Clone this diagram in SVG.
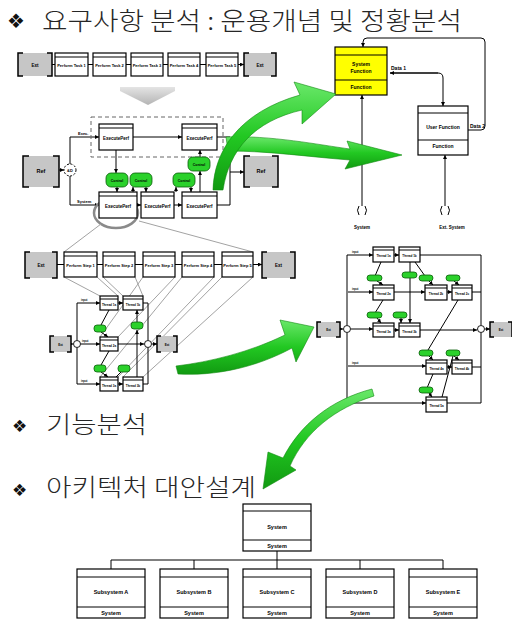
<svg xmlns="http://www.w3.org/2000/svg" width="512" height="623" viewBox="0 0 512 623">
<defs>
  <marker id="ah" viewBox="0 0 6 6" refX="6" refY="3" markerWidth="4" markerHeight="4" orient="auto"><path d="M0,0L6,3L0,6z" fill="#000"/></marker>
  <linearGradient id="gr" x1="0" y1="0" x2="0" y2="1">
    <stop offset="0" stop-color="#6ae86a"/><stop offset="0.5" stop-color="#22c822"/><stop offset="1" stop-color="#119a11"/>
  </linearGradient>
  <linearGradient id="gy" x1="0" y1="0" x2="0" y2="1">
    <stop offset="0" stop-color="#e4e4e4"/><stop offset="1" stop-color="#b4b4b4"/>
  </linearGradient>
</defs>
<style>
  .bx{fill:#fff;stroke:#000;stroke-width:1.2}
  .yl{fill:#ffff00;stroke:#000;stroke-width:1.2}
  .rf{fill:#c6c6c6}
  .br{fill:none;stroke:#000;stroke-width:1.5}
  .ln{fill:none;stroke:#000;stroke-width:1}
  .ar{marker-end:url(#ah)}
  .fan{fill:none;stroke:#a3a3a3;stroke-width:1}
  .gb{fill:#2bd12b;stroke:#0b5e0b;stroke-width:0.8}
  .jn{fill:#fff;stroke:#000;stroke-width:0.9}
  .s{font-family:"Liberation Sans",Arial,sans-serif;font-weight:bold;text-anchor:middle;fill:#000}
  .sl{font-family:"Liberation Sans",Arial,sans-serif;font-weight:bold;fill:#000}
  .h{font-family:"Noto Sans CJK KR","Noto Sans",sans-serif;font-weight:300;fill:#262626}
  .bu{font-family:"DejaVu Sans",sans-serif;fill:#111}
  .sw{fill:url(#gr);stroke:#138a13;stroke-width:0.6}
</style>

<rect width="512" height="623" fill="#fff"/>

<!-- headings -->
<g id="headings">
  <text class="bu" x="7" y="28" font-size="20">❖</text>
  <text class="h" x="42" y="30" font-size="25" textLength="420" lengthAdjust="spacingAndGlyphs">요구사항 분석 : 운용개념 및 정황분석</text>
  <text class="bu" x="12" y="432" font-size="17">❖</text>
  <text class="h" x="46" y="433" font-size="24" textLength="101" lengthAdjust="spacingAndGlyphs">기능분석</text>
  <text class="bu" x="12" y="496" font-size="17">❖</text>
  <text class="h" x="46" y="496" font-size="24" textLength="210" lengthAdjust="spacingAndGlyphs">아키텍처 대안설계</text>
</g>

<!-- ===================== connectors ===================== -->
<g id="connectors">
  <!-- row 1 -->
  <g id="c-row1">
    <path class="ln ar" d="M52,64.5H55.5M88,64.5H93M126,64.5H131M163,64.5H168M200,64.5H206M238,64.5H244"/>
  </g>
  <!-- context diagram -->
  <g id="c-context">
    <path class="ln ar" d="M59,170H64"/>
    <path class="ln ar" d="M70,164V137H99"/>
    <path class="ln ar" d="M70,176V205H99"/>
    <path class="ln ar" d="M133,137H182"/>
    <path class="ln" d="M217,137H230V205H217"/>
    <path class="ln ar" d="M230,172H244"/>
    <path class="ln ar" d="M116,150V173"/>
    <path class="ln ar" d="M117,187V192"/>
    <path class="ln ar" d="M133,192V187"/>
    <path class="ln ar" d="M146,187V192"/>
    <path class="ln ar" d="M137,205H141"/>
    <path class="ln ar" d="M174,205H182"/>
    <path class="ln ar" d="M176,192V187"/>
    <path class="ln ar" d="M191,187V192"/>
    <path class="ln ar" d="M200,192V171"/>
    <path class="ln ar" d="M200,157V150"/>
    <text class="sl" x="78" y="135" font-size="4">Exec.</text>
    <text class="sl" x="77" y="203" font-size="4">System</text>
  </g>
  <!-- decomposition fan -->
  <g id="c-fan">
    <ellipse cx="116" cy="213" rx="22" ry="15" fill="none" stroke="#8a8a8a" stroke-width="2.5"/>
    <path class="fan" d="M101,224L64,252M139,221L253,252"/>
    <path class="fan" d="M64,277L100,296M97,277L118,296M103,277L123,296M135,277L143,296M143,277L100,337M175,277L118,337M182,277L100,377M214,277L118,377M222,277L123,377M253,277L143,377"/>
  </g>
  <!-- row 2 -->
  <g id="c-row2">
    <path class="ln ar" d="M57,264.5H64M97,264.5H103M135,264.5H143M175,264.5H182M214,264.5H222M253,264.5H262"/>
  </g>
  <!-- small flow diagram -->
  <g id="c-flow-small">
    <path class="ln ar" d="M71,344H73"/>
    <path class="ln ar" d="M77,340V303H100"/>
    <path class="ln ar" d="M77,348V384H100"/>
    <path class="ln ar" d="M81,344H100"/>
    <path class="ln ar" d="M118,303H123"/>
    <path class="ln" d="M143,303H148V340M143,384H148V348"/>
    <path class="ln ar" d="M118,344H144"/>
    <path class="ln ar" d="M152,344H157"/>
    <path class="ln" d="M109,310L101,325M109,351L101,365M116,377L121,372"/>
    <path class="ln ar" d="M101,332L108,337"/>
    <path class="ln ar" d="M101,372L108,377"/>
    <path class="ln ar" d="M118,384H123"/>
    <path class="ln ar" d="M137,377V330"/>
    <path class="ln ar" d="M137,322V310"/>
    <text class="sl" x="81" y="301" font-size="2.6">input</text>
    <text class="sl" x="82" y="342" font-size="2.6">input</text>
    <text class="sl" x="81" y="382" font-size="2.6">input</text>
  </g>
  <!-- large flow diagram -->
  <g id="c-flow-large">
    <path class="ln ar" d="M340,329H343"/>
    <path class="ln ar" d="M485,329H490"/>
    <path class="ln ar" d="M347,325V255H373"/>
    <path class="ln ar" d="M347,333V403H426"/>
    <path class="ln ar" d="M348,292H373"/>
    <path class="ln ar" d="M348,366H426"/>
    <path class="ln ar" d="M351,329H373"/>
    <path class="ln ar" d="M394,255H399"/>
    <path class="ln" d="M420,255H481V325M481,333V403H447M472,292H481M472,367H481"/>
    <path class="ln ar" d="M394,292H425"/>
    <path class="ln ar" d="M447,292H452"/>
    <path class="ln ar" d="M394,330H399"/>
    <path class="ln ar" d="M420,330H477"/>
    <path class="ln ar" d="M447,367H452"/>
    <path class="ln" d="M381,262L375,276M415,262L425,276M383,300L375,313M458,300L428,350M433,374L427,388M442,397L453,356"/>
    <path class="ln ar" d="M377,281L383,285"/>
    <path class="ln ar" d="M410,262V323"/>
    <path class="ln ar" d="M429,281L433,285"/>
    <path class="ln ar" d="M454,281L459,285"/>
    <path class="ln ar" d="M377,318L381,323"/>
    <path class="ln ar" d="M401,318V323"/>
    <path class="ln ar" d="M429,356L433,360"/>
    <path class="ln ar" d="M454,356L459,360"/>
    <path class="ln ar" d="M429,393L432,397"/>
    <text class="sl" x="352" y="253" font-size="2.6">input</text>
    <text class="sl" x="352" y="290" font-size="2.6">input</text>
    <text class="sl" x="352" y="364" font-size="2.6">input</text>
    <text class="sl" x="352" y="401" font-size="2.6">input</text>
  </g>
  <!-- function diagram -->
  <g id="c-function">
    <path class="ln ar" d="M438,73H390"/>
    <path class="ln ar" d="M390,73H438Q443,73 443,78V106"/>
    <path class="ln ar" d="M468,130H481Q485,130 485,126V42Q485,38 481,38H367Q363,38 363,42V47"/>
    <path class="ln ar" d="M362,206V95"/>
    <path class="ln ar" d="M445,206V155"/>
    <path class="ln" d="M359,206Q356,210 359,215M365,206Q368,210 365,215M442,206Q439,210 442,215M448,206Q451,210 448,215"/>
    <text class="sl" x="391" y="70" font-size="5">Data 1</text>
    <text class="sl" x="470" y="128" font-size="5">Data 2</text>
    <text class="s" x="362" y="229" font-size="4.5">System</text>
    <text class="s" x="452" y="229" font-size="4.5">Ext. System</text>
  </g>
  <!-- hierarchy -->
  <g id="c-tree">
    <path class="ln" d="M277,551V560M111,560H443M111,560V569M194,560V569M277,560V569M360,560V569M443,560V569"/>
  </g>
</g>

<!-- ===================== row 1 ===================== -->
<g id="row1">
  <g id="r1-ext-l"><rect class="rf" x="18" y="53" width="34" height="23"/><path class="br" d="M23,53H18V76H23M47,53H52V76H47"/><text class="s" x="35" y="66.5" font-size="4.5">Ext</text></g>
  <g id="r1-t1"><rect class="bx" x="55" y="53" width="33" height="23"/><line class="ln" x1="55" y1="57" x2="88" y2="57"/><text class="s" x="71.5" y="67" font-size="4">Perform Task 1</text></g>
  <g id="r1-t2"><rect class="bx" x="93" y="53" width="33" height="23"/><line class="ln" x1="93" y1="57" x2="126" y2="57"/><text class="s" x="109.5" y="67" font-size="4">Perform Task 2</text></g>
  <g id="r1-t3"><rect class="bx" x="131" y="53" width="32" height="23"/><line class="ln" x1="131" y1="57" x2="163" y2="57"/><text class="s" x="147" y="67" font-size="4">Perform Task 3</text></g>
  <g id="r1-t4"><rect class="bx" x="168" y="53" width="32" height="23"/><line class="ln" x1="168" y1="57" x2="200" y2="57"/><text class="s" x="184" y="67" font-size="4">Perform Task 4</text></g>
  <g id="r1-t5"><rect class="bx" x="206" y="53" width="32" height="23"/><line class="ln" x1="206" y1="57" x2="238" y2="57"/><text class="s" x="222" y="67" font-size="4">Perform Task 5</text></g>
  <g id="r1-ext-r"><rect class="rf" x="244" y="53" width="32" height="23"/><path class="br" d="M249,53H244V76H249M271,53H276V76H271"/><text class="s" x="260" y="66.5" font-size="4.5">Ext</text></g>
</g>

<!-- refinement arrow -->
<g id="refine-arrow"><polygon points="120,87 175,87 175,91 148,105 120,91" fill="url(#gy)"/></g>

<!-- ===================== context diagram ===================== -->
<g id="context">
  <rect x="91" y="117" width="132" height="40" fill="none" stroke="#666" stroke-width="1" stroke-dasharray="4,3"/>
  <g id="ctx-ref-l"><rect class="rf" x="23" y="156" width="36" height="31"/><path class="br" d="M29,156H23V187H29M53,156H59V187H53"/><text class="s" x="41" y="173" font-size="5.5">Ref</text></g>
  <g id="ctx-ref-r"><rect class="rf" x="244" y="156" width="34" height="31"/><path class="br" d="M250,156H244V187H250M272,156H278V187H272"/><text class="s" x="261" y="173" font-size="5.5">Ref</text></g>
  <g id="ctx-and"><circle cx="70" cy="170" r="6" fill="#fff" stroke="#000" stroke-width="1" stroke-dasharray="2,1.5"/><text class="s" x="70" y="171.5" font-size="4">&amp;D</text></g>
  <g id="ctx-p1"><rect class="bx" x="99" y="124" width="34" height="26"/><line class="ln" x1="99" y1="128" x2="133" y2="128"/><text class="s" x="116" y="140" font-size="4.5">ExecutePerf</text></g>
  <g id="ctx-p2"><rect class="bx" x="182" y="124" width="35" height="26"/><line class="ln" x1="182" y1="128" x2="217" y2="128"/><text class="s" x="199.5" y="140" font-size="4.5">ExecutePerf</text></g>
  <g id="ctx-p3"><rect class="bx" x="99" y="192" width="38" height="26"/><line class="ln" x1="99" y1="196" x2="137" y2="196"/><text class="s" x="118" y="208" font-size="4.5">ExecutePerf</text></g>
  <g id="ctx-p4"><rect class="bx" x="141" y="192" width="33" height="26"/><line class="ln" x1="141" y1="196" x2="174" y2="196"/><text class="s" x="157.5" y="208" font-size="4.5">ExecutePerf</text></g>
  <g id="ctx-p5"><rect class="bx" x="182" y="192" width="35" height="26"/><line class="ln" x1="182" y1="196" x2="217" y2="196"/><text class="s" x="199.5" y="208" font-size="4.5">ExecutePerf</text></g>
  <g id="ctx-i1"><rect class="gb" x="106" y="173" width="22" height="14" rx="5"/><text class="s" x="117" y="181.5" font-size="3.5">Control</text></g>
  <g id="ctx-i2"><rect class="gb" x="130" y="173" width="22" height="14" rx="5"/><text class="s" x="141" y="181.5" font-size="3.5">Control</text></g>
  <g id="ctx-i3"><rect class="gb" x="173" y="173" width="22" height="14" rx="5"/><text class="s" x="184" y="181.5" font-size="3.5">Control</text></g>
  <g id="ctx-i4"><rect class="gb" x="188" y="157" width="22" height="14" rx="5"/><text class="s" x="199" y="165.5" font-size="3.5">Control</text></g>
</g>

<!-- ===================== row 2 ===================== -->
<g id="row2">
  <g id="r2-ext-l"><rect class="rf" x="25" y="252" width="32" height="26"/><path class="br" d="M30,252H25V278H30M52,252H57V278H52"/><text class="s" x="41" y="266.5" font-size="4.5">Ext</text></g>
  <g id="r2-t1"><rect class="bx" x="64" y="252" width="33" height="25"/><line class="ln" x1="64" y1="256" x2="97" y2="256"/><text class="s" x="80.5" y="267" font-size="4">Perform Step 1</text></g>
  <g id="r2-t2"><rect class="bx" x="103" y="252" width="32" height="25"/><line class="ln" x1="103" y1="256" x2="135" y2="256"/><text class="s" x="119" y="267" font-size="4">Perform Step 2</text></g>
  <g id="r2-t3"><rect class="bx" x="143" y="252" width="32" height="25"/><line class="ln" x1="143" y1="256" x2="175" y2="256"/><text class="s" x="159" y="267" font-size="4">Perform Step 3</text></g>
  <g id="r2-t4"><rect class="bx" x="182" y="252" width="32" height="25"/><line class="ln" x1="182" y1="256" x2="214" y2="256"/><text class="s" x="198" y="267" font-size="4">Perform Step 4</text></g>
  <g id="r2-t5"><rect class="bx" x="222" y="252" width="31" height="25"/><line class="ln" x1="222" y1="256" x2="253" y2="256"/><text class="s" x="237.5" y="267" font-size="4">Perform Step 5</text></g>
  <g id="r2-ext-r"><rect class="rf" x="262" y="252" width="33" height="26"/><path class="br" d="M267,252H262V278H267M290,252H295V278H290"/><text class="s" x="278.5" y="266.5" font-size="4.5">Ext</text></g>
</g>

<!-- ===================== small flow diagram ===================== -->
<g id="flow-small">
  <g id="fs-ref-l"><rect class="rf" x="50" y="336" width="21" height="16"/><path class="br" d="M54,336H50V352H54M67,336H71V352H67"/><text class="s" x="60.5" y="345.5" font-size="3">Ext</text></g>
  <g id="fs-ref-r"><rect class="rf" x="157" y="336" width="20" height="16"/><path class="br" d="M161,336H157V352H161M173,336H177V352H173"/><text class="s" x="167" y="345.5" font-size="3">Ext</text></g>
  <circle class="jn" cx="77" cy="344" r="3.5"/>
  <circle class="jn" cx="148" cy="344" r="3.5"/>
  <g id="fs-a"><rect class="bx" x="100" y="296" width="18" height="14"/><line class="ln" x1="100" y1="299" x2="118" y2="299"/><text class="s" x="109" y="305.5" font-size="3">Thread 1a</text></g>
  <g id="fs-b"><rect class="bx" x="123" y="296" width="20" height="14"/><line class="ln" x1="123" y1="299" x2="143" y2="299"/><text class="s" x="133" y="305.5" font-size="3">Thread 1b</text></g>
  <g id="fs-c"><rect class="bx" x="100" y="337" width="18" height="14"/><line class="ln" x1="100" y1="340" x2="118" y2="340"/><text class="s" x="109" y="346.5" font-size="3">Thread 2a</text></g>
  <g id="fs-d"><rect class="bx" x="100" y="377" width="18" height="14"/><line class="ln" x1="100" y1="380" x2="118" y2="380"/><text class="s" x="109" y="386.5" font-size="3">Thread 3a</text></g>
  <g id="fs-e"><rect class="bx" x="123" y="377" width="20" height="14"/><line class="ln" x1="123" y1="380" x2="143" y2="380"/><text class="s" x="133" y="386.5" font-size="3">Thread 3b</text></g>
  <g id="fs-i1"><rect class="gb" x="94" y="325" width="12" height="7" rx="3"/></g>
  <g id="fs-i2"><rect class="gb" x="131" y="322" width="12" height="7" rx="3"/></g>
  <g id="fs-i3"><rect class="gb" x="94" y="365" width="12" height="7" rx="3"/></g>
  <g id="fs-i4"><rect class="gb" x="118" y="365" width="12" height="7" rx="3"/></g>
</g>

<!-- ===================== large flow diagram ===================== -->
<g id="flow-large">
  <g id="fl-ref-l"><rect class="rf" x="317" y="322" width="23" height="15"/><path class="br" d="M321,322H317V337H321M336,322H340V337H336"/><text class="s" x="328.5" y="331" font-size="3">Ext</text></g>
  <g id="fl-ref-r"><rect class="rf" x="490" y="322" width="22" height="15"/><path class="br" d="M494,322H490V337H494M508,322H512V337"/><text class="s" x="501" y="331" font-size="3">Ext</text></g>
  <circle class="jn" cx="347" cy="329" r="3.5"/>
  <circle class="jn" cx="481" cy="329" r="3.5"/>
  <g id="fl-a"><rect class="bx" x="373" y="247" width="21" height="15"/><line class="ln" x1="373" y1="250" x2="394" y2="250"/><text class="s" x="383.5" y="257" font-size="3">Thread 1a</text></g>
  <g id="fl-b"><rect class="bx" x="399" y="247" width="21" height="15"/><line class="ln" x1="399" y1="250" x2="420" y2="250"/><text class="s" x="409.5" y="257" font-size="3">Thread 1b</text></g>
  <g id="fl-c"><rect class="bx" x="373" y="285" width="21" height="15"/><line class="ln" x1="373" y1="288" x2="394" y2="288"/><text class="s" x="383.5" y="295" font-size="3">Thread 2a</text></g>
  <g id="fl-d"><rect class="bx" x="425" y="285" width="22" height="15"/><line class="ln" x1="425" y1="288" x2="447" y2="288"/><text class="s" x="436" y="295" font-size="3">Thread 2b</text></g>
  <g id="fl-e"><rect class="bx" x="452" y="285" width="20" height="15"/><line class="ln" x1="452" y1="288" x2="472" y2="288"/><text class="s" x="462" y="295" font-size="3">Thread 2c</text></g>
  <g id="fl-f"><rect class="bx" x="373" y="323" width="21" height="14"/><line class="ln" x1="373" y1="326" x2="394" y2="326"/><text class="s" x="383.5" y="332.5" font-size="3">Thread 3a</text></g>
  <g id="fl-g"><rect class="bx" x="399" y="323" width="21" height="14"/><line class="ln" x1="399" y1="326" x2="420" y2="326"/><text class="s" x="409.5" y="332.5" font-size="3">Thread 3b</text></g>
  <g id="fl-h"><rect class="bx" x="426" y="360" width="21" height="14"/><line class="ln" x1="426" y1="363" x2="447" y2="363"/><text class="s" x="436.5" y="369.5" font-size="3">Thread 4a</text></g>
  <g id="fl-i"><rect class="bx" x="452" y="360" width="20" height="14"/><line class="ln" x1="452" y1="363" x2="472" y2="363"/><text class="s" x="462" y="369.5" font-size="3">Thread 4b</text></g>
  <g id="fl-j"><rect class="bx" x="426" y="397" width="21" height="15"/><line class="ln" x1="426" y1="400" x2="447" y2="400"/><text class="s" x="436.5" y="407" font-size="3">Thread 5a</text></g>
  <g id="fl-i1"><rect class="gb" x="367" y="275" width="15" height="6" rx="3"/></g>
  <g id="fl-i2"><rect class="gb" x="402" y="272" width="15" height="6" rx="3"/></g>
  <g id="fl-i3"><rect class="gb" x="419" y="275" width="14" height="6" rx="3"/></g>
  <g id="fl-i4"><rect class="gb" x="446" y="275" width="14" height="6" rx="3"/></g>
  <g id="fl-i5"><rect class="gb" x="367" y="312" width="15" height="6" rx="3"/></g>
  <g id="fl-i6"><rect class="gb" x="393" y="312" width="14" height="6" rx="3"/></g>
  <g id="fl-i7"><rect class="gb" x="419" y="350" width="14" height="6" rx="3"/></g>
  <g id="fl-i8"><rect class="gb" x="446" y="350" width="14" height="6" rx="3"/></g>
  <g id="fl-i9"><rect class="gb" x="419" y="387" width="14" height="6" rx="3"/></g>
</g>

<!-- ===================== function diagram ===================== -->
<g id="function">
  <g id="fn-system">
    <rect class="yl" x="335" y="47" width="52" height="48"/>
    <path class="ln" d="M335,55H387M335,80H387"/>
    <text class="s" x="361" y="66" font-size="5">System</text>
    <text class="s" x="361" y="73" font-size="5">Function</text>
    <text class="s" x="361" y="89" font-size="5">Function</text>
  </g>
  <g id="fn-user">
    <rect class="bx" x="418" y="106" width="50" height="49"/>
    <path class="ln" d="M418,113H468M418,140H468"/>
    <text class="s" x="443" y="129" font-size="5">User Function</text>
    <text class="s" x="443" y="148" font-size="5">Function</text>
  </g>
</g>

<!-- ===================== hierarchy ===================== -->
<g id="tree">
  <g id="t-system"><rect class="bx" x="243" y="504" width="68" height="47"/><path class="ln" d="M243,511H311M243,540H311"/><text class="s" x="277" y="529" font-size="5.5">System</text><text class="s" x="277" y="548" font-size="5.5">System</text></g>
  <g id="t-sub-a"><rect class="bx" x="77" y="569" width="68" height="49"/><path class="ln" d="M77,577H145M77,607H145"/><text class="s" x="111" y="594" font-size="5.5">Subsystem A</text><text class="s" x="111" y="615" font-size="5.5">System</text></g>
  <g id="t-sub-b"><rect class="bx" x="160" y="569" width="68" height="49"/><path class="ln" d="M160,577H228M160,607H228"/><text class="s" x="194" y="594" font-size="5.5">Subsystem B</text><text class="s" x="194" y="615" font-size="5.5">System</text></g>
  <g id="t-sub-c"><rect class="bx" x="243" y="569" width="68" height="49"/><path class="ln" d="M243,577H311M243,607H311"/><text class="s" x="277" y="594" font-size="5.5">Subsystem C</text><text class="s" x="277" y="615" font-size="5.5">System</text></g>
  <g id="t-sub-d"><rect class="bx" x="326" y="569" width="68" height="49"/><path class="ln" d="M326,577H394M326,607H394"/><text class="s" x="360" y="594" font-size="5.5">Subsystem D</text><text class="s" x="360" y="615" font-size="5.5">System</text></g>
  <g id="t-sub-e"><rect class="bx" x="409" y="569" width="68" height="49"/><path class="ln" d="M409,577H477M409,607H477"/><text class="s" x="443" y="594" font-size="5.5">Subsystem E</text><text class="s" x="443" y="615" font-size="5.5">System</text></g>
</g>

<!-- ===================== green transition arrows ===================== -->
<g id="transitions">
  <path class="sw" d="M226,137C270,135 320,145 350,149L347,141L402,155L345,169L350,160C310,157 270,151 228,151Z"/>
  <path class="sw" d="M213,190C214,150 240,112 300,95L294,82L336,94L302,124L302,110C254,121 229,150 223,190Z"/>
  <path class="sw" d="M176,366C210,362 250,352 285,335L280,320L314,327L296,362L292,348C255,368 215,376 178,374Z"/>
  <path class="sw" d="M372,389C330,400 300,425 283,458L268,452L263,489L296,470L290,466C305,432 335,408 374,396Z"/>
</g>
</svg>
